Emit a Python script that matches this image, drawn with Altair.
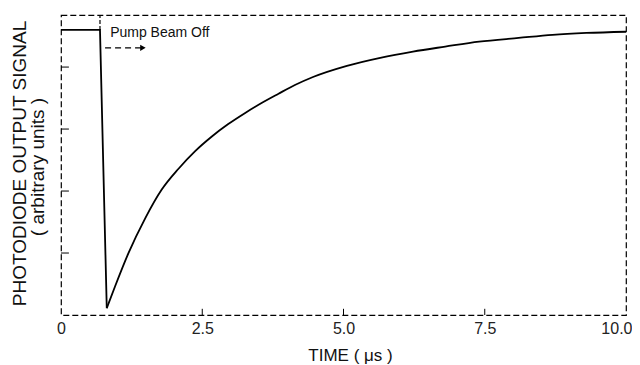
import altair as alt
import pandas as pd

# Photodiode signal trace (time in microseconds, signal in arbitrary units)
time_us = [0.0, 0.69, 0.81, 0.956, 1.19, 1.49, 1.78, 2.08, 2.37, 2.67, 2.96, 3.26, 3.55,
           3.85, 4.14, 4.46, 5.06, 5.65, 6.23, 6.8, 7.4, 8.1, 8.7, 9.3, 10.0]
signal = [4.6, 4.6, 0.11, 0.46, 0.99, 1.56, 2.02, 2.36, 2.64, 2.88, 3.08, 3.26, 3.42,
          3.57, 3.71, 3.84, 4.02, 4.15, 4.25, 4.33, 4.41, 4.47, 4.52, 4.55, 4.57]
# segment: 0 = pump on + sudden drop, 1 = recovery (minimum shared by both)
segment_end_index = 2

x_tick_values = [0, 2.5, 5.0, 7.5, 10.0]
x_inner_ticks = [2.5, 5.0, 7.5]
y_inner_ticks = [1, 2, 3, 4]

y_top = 4.84
pump_off_time = 0.69
pump_level = 4.6

annot_label = "Pump Beam Off"
annot_x = 0.87
annot_y = 4.55
arrow_start = 0.78
arrow_end = 1.45
arrow_y = 4.31

FONT = "Liberation Sans"

df = pd.DataFrame({"t": time_us, "v": signal})
df_drop = df.iloc[: segment_end_index + 1]
df_rec = df.iloc[segment_end_index:]

xs = alt.Scale(domain=[0, 10], nice=False, zero=False)
ys = alt.Scale(domain=[0, y_top], nice=False, zero=False)

x_axis = alt.Axis(values=x_tick_values, ticks=False, domain=False, grid=False,
                  labelExpr="datum.value == 0 ? '0' : format(datum.value, '.1f')",
                  labelAlign=alt.condition("datum.value == 10", alt.value("right"), alt.value("center")),
                  labelOffset=alt.condition("datum.value == 10", alt.value(6), alt.value(0)),
                  labelFont=FONT, labelFontSize=16, labelColor="#222",
                  labelPadding=5, labelFlush=False,
                  title="TIME ( μs )", titleFont=FONT, titleFontSize=17,
                  titleFontWeight="normal", titleColor="#111",
                  titleX=289, titleY=40, titleBaseline="middle")
y_axis = alt.Axis(ticks=False, labels=False, domain=False, grid=False,
                  title="PHOTODIODE OUTPUT SIGNAL", titleFont=FONT, titleFontSize=19,
                  titleFontWeight="normal", titleColor="#111", titleAngle=270,
                  titleX=-42, titleY=148, titleAlign="center",
                  titleBaseline="middle")

drop = alt.Chart(df_drop).mark_line(color="black", strokeWidth=1.8).encode(
    x=alt.X("t:Q", scale=xs, axis=x_axis),
    y=alt.Y("v:Q", scale=ys, axis=y_axis),
)
recovery = alt.Chart(df_rec).mark_line(color="black", strokeWidth=1.8,
                                       interpolate="monotone").encode(
    x=alt.X("t:Q", scale=xs), y=alt.Y("v:Q", scale=ys)
)

ytick_df = pd.DataFrame({"v": y_inner_ticks})
yticks = alt.Chart(ytick_df).mark_rule(color="black", strokeWidth=1).encode(
    y=alt.Y("v:Q", scale=ys), x=alt.datum(0), x2=alt.datum(0.14)
)

xtick_df = pd.DataFrame({"t": x_inner_ticks})
xticks = alt.Chart(xtick_df).mark_rule(color="black", strokeWidth=1).encode(
    x=alt.X("t:Q", scale=xs), y=alt.datum(0), y2=alt.datum(0.1)
)

vline_df = pd.DataFrame({"t": [pump_off_time], "v": [pump_level], "v2": [y_top]})
vline = alt.Chart(vline_df).mark_rule(color="black", strokeWidth=1.2, strokeDash=[4, 2]).encode(
    x=alt.X("t:Q", scale=xs), y=alt.Y("v:Q", scale=ys), y2="v2:Q"
)

arrow_df = pd.DataFrame({"t": [arrow_start], "t2": [arrow_end], "v": [arrow_y]})
arrow = alt.Chart(arrow_df).mark_rule(color="black", strokeWidth=1.2, strokeDash=[6, 4]).encode(
    x=alt.X("t:Q", scale=xs), x2="t2:Q", y=alt.Y("v:Q", scale=ys)
)
head_df = pd.DataFrame({"t": [arrow_end], "v": [arrow_y]})
head = alt.Chart(head_df).mark_point(shape="triangle-right", filled=True, color="black",
                                     size=40, opacity=1).encode(
    x=alt.X("t:Q", scale=xs), y=alt.Y("v:Q", scale=ys)
)

text_df = pd.DataFrame({"t": [annot_x], "v": [annot_y], "label": [annot_label]})
annot = alt.Chart(text_df).mark_text(align="left", baseline="middle", font=FONT,
                                     fontSize=14, color="#111").encode(
    x=alt.X("t:Q", scale=xs), y=alt.Y("v:Q", scale=ys), text="label:N"
)

sub_df = pd.DataFrame({"label": ["( arbitrary units )"]})
subtitle = alt.Chart(sub_df).mark_text(angle=270, align="center", baseline="middle",
                                       font=FONT, fontSize=19, color="#111").encode(
    x=alt.value(-23), y=alt.value(152), text="label:N"
)

chart = alt.layer(drop, recovery, yticks, xticks, vline, arrow, head, annot, subtitle).properties(
    width=565, height=300,
    autosize=alt.AutoSizeParams(type="none"),
    padding={"left": 53, "top": 7, "right": 6, "bottom": 50},
).configure_view(stroke="black", strokeDash=[6, 3], strokeWidth=1.2)

chart.save("out.html", embed_options={"renderer": "svg", "actions": False})
